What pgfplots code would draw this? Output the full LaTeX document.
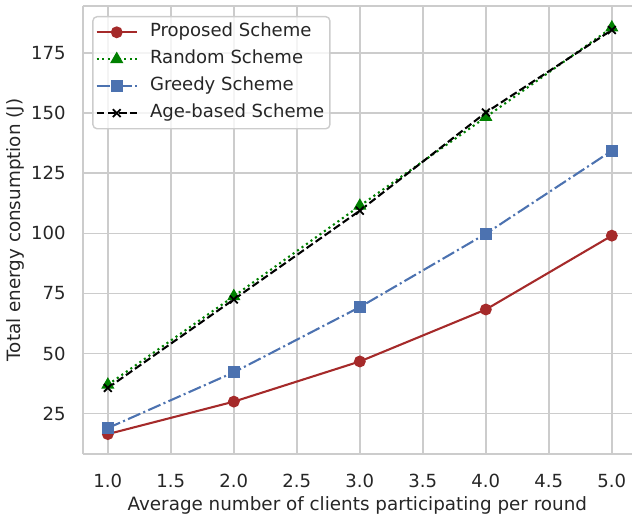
\documentclass[border=0pt]{standalone}
\usepackage{fontspec}
\setmainfont{DejaVu Sans}
\usepackage{pgfplots}
\pgfplotsset{compat=1.18}
\definecolor{txt}{HTML}{262626}
\definecolor{gridc}{HTML}{CCCCCC}
\definecolor{cprop}{HTML}{A52A2A}
\definecolor{crand}{HTML}{008000}
\definecolor{cgreedy}{HTML}{4C72B0}
\begin{document}
\begin{tikzpicture}
\begin{axis}[
  scale only axis, width=395.5pt, height=322.6pt,
  xmin=0.8, xmax=5.16, ymin=8.2, ymax=194.5,
  axis y line*=left,
  axis line style={gridc, line width=1.25pt},
  grid=major, major grid style={gridc, line width=1pt},
  major tick length=0pt,
  xtick={1,1.5,2,2.5,3,3.5,4,4.5,5},
  ytick={25,50,75,100,125,150,175},
  xticklabel style={/pgf/number format/.cd, fixed, fixed zerofill, precision=1},
  /pgf/number format/assume math mode=true,
  tick label style={font=\fontsize{13}{15}\selectfont, text=txt, inner sep=0pt},
  xticklabel shift=14.4pt,
  yticklabel shift=12pt,
  every axis x label/.style={at={(axis description cs:0.5,-0.1265)}, anchor=base, font=\fontsize{13.2}{15}\selectfont, text=txt},
  every axis y label/.style={at={(axis description cs:-0.1232,0.5)}, rotate=90, anchor=center, font=\fontsize{13.2}{15}\selectfont, text=txt},
  xlabel={Average number of clients participating per round},
  ylabel={Total energy consumption (J)},
  legend cell align=left,
  legend style={at={(0,1)}, anchor=north west, xshift=6.9pt, yshift=-7.2pt,
    draw=gridc, line width=1pt, rounded corners=3pt, fill=white, fill opacity=0.8,
    text opacity=1, draw opacity=1, inner xsep=2pt, inner ysep=3pt,
    row sep=2.9pt, column sep=6.8pt, font=\fontsize{13}{15}\selectfont, text=txt,
    nodes={inner sep=2pt, text height=9.5pt, text depth=3pt}},
  legend image code/.code={\draw[sharp corners, fill opacity=1, draw opacity=1, mark repeat=2, mark phase=2, #1] plot coordinates {(0pt,0pt) (14.4pt,0pt) (28.8pt,0pt)};},
]
\addplot[cprop, line width=1.5pt, mark=*, mark size=3.5pt, mark options={solid}]
  coordinates {(1,16.5) (2,30.0) (3,46.7) (4,68.3) (5,99.0)};
\addlegendentry{Proposed Scheme}
\addplot[crand, line width=1.5pt, dash pattern=on 1.5pt off 2.475pt, mark=triangle*, mark size=4pt, mark options={solid}]
  coordinates {(1,37.0) (2,73.8) (3,111.4) (4,148.3) (5,185.5)};
\addlegendentry{Random Scheme}
\addplot[cgreedy, line width=1.5pt, dash pattern=on 9.6pt off 2.4pt on 1.5pt off 2.4pt, mark=square*, mark size=3.6pt, mark options={solid}]
  coordinates {(1,19.0) (2,42.2) (3,69.3) (4,99.8) (5,134.3)};
\addlegendentry{Greedy Scheme}
\addplot[black, line width=1.5pt, dash pattern=on 5.55pt off 2.4pt, mark=x, mark size=4pt, mark options={solid, line width=1.3pt}]
  coordinates {(1,35.7) (2,72.5) (3,109.4) (4,150.2) (5,184.5)};
\addlegendentry{Age-based Scheme}
\end{axis}
\pgfresetboundingbox
\useasboundingbox ([xshift=-59.5pt,yshift=-46.8pt]current axis.south west) rectangle ([yshift=4.3pt]current axis.north east);
\end{tikzpicture}
\end{document}
